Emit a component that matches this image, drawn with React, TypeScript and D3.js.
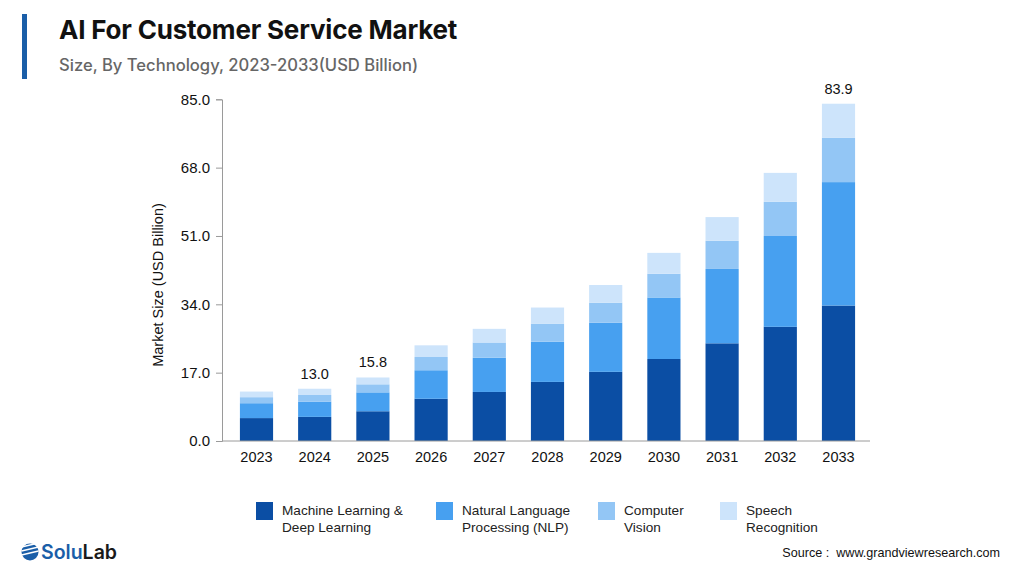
import React, { useRef, useEffect } from 'react';
import * as d3 from 'd3';

const years = ['2023', '2024', '2025', '2026', '2027', '2028', '2029', '2030', '2031', '2032', '2033'];
const machineLearning = [5.7, 6.0, 7.4, 10.5, 12.2, 14.7, 17.2, 20.4, 24.3, 28.4, 33.7];
const nlp = [3.7, 3.8, 4.7, 7.1, 8.5, 10.0, 12.2, 15.3, 18.5, 22.6, 30.7];
const computerVision = [1.5, 1.65, 2.0, 3.3, 3.8, 4.5, 5.0, 5.9, 7.0, 8.5, 11.0];
const speech = [1.4, 1.55, 1.7, 2.9, 3.4, 4.0, 4.4, 5.2, 5.9, 7.2, 8.5];
const seriesNames = ['Machine Learning & Deep Learning', 'Natural Language Processing (NLP)', 'Computer Vision', 'Speech Recognition'];
const legendLines = [['Machine Learning &', 'Deep Learning'], ['Natural Language', 'Processing (NLP)'], ['Computer', 'Vision'], ['Speech', 'Recognition']];
const yTicks = [0, 17, 34, 51, 68, 85];
const labelledYears = ['2024', '2025', '2033'];

const colors = ['#0b4ea4', '#47a0f0', '#93c6f5', '#cde4fb'];
const axisFont = '"Liberation Sans", Arial, sans-serif';

const AIChart: React.FC = () => {
    const ref = useRef<SVGSVGElement | null>(null);

    useEffect(() => {
        if (!ref.current) return;
        const svg = d3.select(ref.current);
        svg.selectAll('*').remove();

        svg.append('rect').attr('width', 1024).attr('height', 577).attr('fill', '#ffffff');

        // header
        svg.append('rect').attr('x', 22).attr('y', 14).attr('width', 5).attr('height', 65).attr('fill', '#1a5ea8');
        svg.append('text').attr('x', 59).attr('y', 39)
            .attr('font-family', 'Inter, sans-serif').attr('font-weight', 700).attr('font-size', 26)
            .attr('letter-spacing', -0.2)
            .attr('fill', '#111').text('AI For Customer Service Market');
        svg.append('text').attr('x', 59).attr('y', 71)
            .attr('font-family', 'Inter, sans-serif').attr('font-weight', 500).attr('font-size', 16.6)
            .attr('fill', '#666').text('Size, By Technology, 2023-2033(USD Billion)');

        const data = years.map((year, i) => ({
            year,
            ml: machineLearning[i],
            nlp: nlp[i],
            cv: computerVision[i],
            sp: speech[i],
        }));
        const keys = ['ml', 'nlp', 'cv', 'sp'];

        const x = d3.scaleBand<string>().domain(years).range([227.4, 867.6]).paddingInner(0.43).paddingOuter(0.215);
        const y = d3.scaleLinear().domain([0, 85]).range([441, 99.3]);

        const stacked = d3.stack<any>().keys(keys)(data);

        const g = svg.append('g');
        stacked.forEach((layer, li) => {
            g.selectAll(null)
                .data(layer)
                .join('rect')
                .attr('x', d => x(d.data.year) as number)
                .attr('y', d => y(d[1]))
                .attr('width', x.bandwidth())
                .attr('height', d => y(d[0]) - y(d[1]))
                .attr('fill', colors[li]);
        });

        // y axis
        const yAxis = svg.append('g').attr('transform', 'translate(222,0)')
            .call(d3.axisLeft(y).tickValues(yTicks).tickSize(6).tickPadding(6).tickFormat(d => (d as number).toFixed(1)));
        yAxis.select('.domain').attr('stroke', '#9a9a9a');
        yAxis.selectAll('.tick line').attr('stroke', '#9a9a9a');
        yAxis.selectAll('.tick text').attr('font-family', axisFont).attr('font-size', 15).attr('fill', '#111');

        // baseline + year labels
        svg.append('line').attr('x1', 222).attr('x2', 870).attr('y1', y(0)).attr('y2', y(0)).attr('stroke', '#9a9a9a');
        svg.append('g').selectAll('text').data(years).join('text')
            .attr('x', d => (x(d) as number) + x.bandwidth() / 2)
            .attr('y', 462)
            .attr('text-anchor', 'middle')
            .attr('font-family', axisFont).attr('font-size', 14.5).attr('fill', '#111')
            .text(d => d);

        // totals above selected bars
        svg.append('g').selectAll('text').data(data.filter(d => labelledYears.includes(d.year))).join('text')
            .attr('x', d => (x(d.year) as number) + x.bandwidth() / 2)
            .attr('y', d => y(d.ml + d.nlp + d.cv + d.sp) - 10)
            .attr('text-anchor', 'middle')
            .attr('font-family', axisFont).attr('font-size', 14.5).attr('fill', '#111')
            .text(d => (d.ml + d.nlp + d.cv + d.sp).toFixed(1));

        svg.append('text')
            .attr('transform', 'translate(163,285) rotate(-90)')
            .attr('text-anchor', 'middle')
            .attr('font-family', axisFont).attr('font-size', 14.5).attr('fill', '#111')
            .text('Market Size (USD Billion)');

        // legend
        const legendX = [256, 436, 598, 720];
        const legend = svg.append('g');
        seriesNames.forEach((name, i) => {
            const item = legend.append('g').attr('transform', `translate(${legendX[i]},502)`);
            item.append('rect').attr('width', 17).attr('height', 18).attr('fill', colors[i]);
            legendLines[i].forEach((line, j) => {
                item.append('text').attr('x', 26).attr('y', 13 + j * 17)
                    .attr('font-family', axisFont).attr('font-size', 13.6).attr('fill', '#222')
                    .text(line);
            });
        });

        // footer
        svg.append('text').attr('x', 1000).attr('y', 557).attr('text-anchor', 'end')
            .attr('font-family', axisFont).attr('font-size', 12.6).attr('fill', '#111')
            .attr('xml:space', 'preserve')
            .text('Source :  www.grandviewresearch.com');

        const logo = svg.append('g').attr('transform', 'translate(30,552)');
        logo.append('circle').attr('r', 8.5).attr('fill', '#1a5ea8');
        [-3, 1, 5].forEach(o => {
            logo.append('line').attr('x1', -8.5).attr('x2', 8.5).attr('y1', o - 2).attr('y2', o - 6)
                .attr('stroke', '#ffffff').attr('stroke-width', 1.3);
        });
        const logoText = svg.append('text').attr('x', 41).attr('y', 559)
            .attr('font-family', 'Inter, sans-serif').attr('font-weight', 600).attr('font-size', 19.5);
        logoText.append('tspan').attr('fill', '#1a5ea8').text('Solu');
        logoText.append('tspan').attr('fill', '#1a1a1a').text('Lab');
    }, []);

    return <svg ref={ref} width={1024} height={577} style={{ display: 'block' }} />;
};

export default function App() {
    return (
        <div style={{ margin: -8 }}>
            <AIChart />
        </div>
    );
}
